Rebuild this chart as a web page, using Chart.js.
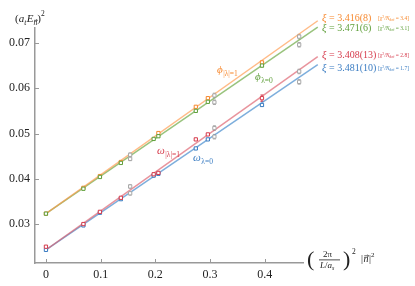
<!DOCTYPE html>
<html>
<head>
<meta charset="utf-8">
<script src="https://cdn.jsdelivr.net/npm/chart.js@4.4.1/dist/chart.umd.min.js"></script>
<style>
  html, body { margin: 0; padding: 0; background: #fff; }
</style>
</head>
<body>
<canvas id="chart" width="415" height="286"></canvas>
<script>
// axis ticks
const xTicks = [0, 0.1, 0.2, 0.3, 0.4];
const xTickLabels = ["0", "0.1", "0.2", "0.3", "0.4"];
const yTicks = [0.03, 0.04, 0.05, 0.06, 0.07];
const yTickLabels = ["0.03", "0.04", "0.05", "0.06", "0.07"];

// pion, |lambda| = 1
const phiL1X = [0, 0.0685, 0.0987, 0.137, 0.2056, 0.274, 0.296, 0.395];
const phiL1Y = [0.0323, 0.0380, 0.0406, 0.0437, 0.0501, 0.0559, 0.0578, 0.0657];
const phiL1Err = [0.0002, 0.0002, 0.0002, 0.0002, 0.0002, 0.0002, 0.0002, 0.0003];
// pion, lambda = 0
const phiL0X = [0, 0.0685, 0.0987, 0.137, 0.197, 0.2056, 0.274, 0.296, 0.395];
const phiL0Y = [0.0323, 0.0378, 0.0404, 0.0435, 0.0488, 0.0494, 0.0550, 0.0570, 0.0650];
const phiL0Err = [0.0002, 0.0002, 0.0002, 0.0002, 0.0002, 0.0002, 0.0002, 0.0002, 0.0003];
// omega, |lambda| = 1
const omL1X = [0, 0.0685, 0.0987, 0.137, 0.197, 0.2056, 0.274, 0.296, 0.395];
const omL1Y = [0.0250, 0.0300, 0.0327, 0.0358, 0.0410, 0.0413, 0.0487, 0.0498, 0.0578];
const omL1Err = [0.0002, 0.0002, 0.0002, 0.0002, 0.0002, 0.0002, 0.0002, 0.0002, 0.0007];
// omega, lambda = 0
const omL0X = [0, 0.0685, 0.0987, 0.137, 0.197, 0.2056, 0.274, 0.296, 0.395];
const omL0Y = [0.0243, 0.0297, 0.0325, 0.0355, 0.0407, 0.0411, 0.0467, 0.0487, 0.0563];
const omL0Err = [0.0002, 0.0002, 0.0002, 0.0002, 0.0002, 0.0002, 0.0002, 0.0002, 0.0003];
// points left out of the fits (grey)
const greyX = [0.154, 0.154, 0.308, 0.308, 0.463, 0.463, 0.154, 0.154, 0.308, 0.308, 0.463, 0.463];
const greyY = [0.0453, 0.0444, 0.0584, 0.0569, 0.0714, 0.0696, 0.0383, 0.0368, 0.0512, 0.0493, 0.0637, 0.0614];
const greyErr = [0.0004, 0.0004, 0.0005, 0.0005, 0.0005, 0.0005, 0.0004, 0.0004, 0.0005, 0.0005, 0.0005, 0.0005];

// fit lines, end points
const fitX = [0, 0.497];
const fitPhiL1 = [0.0323, 0.0749];
const fitPhiL0 = [0.0323, 0.0735];
const fitOmL1 = [0.0243, 0.0670];
const fitOmL0 = [0.0243, 0.0652];

const ORANGE = "#f7892f", GREEN = "#5f9f3a", RED = "#d63b4c", BLUE = "#3a7cc2", GREY = "#a8a8a8";
const SERIF = "'Liberation Serif', 'DejaVu Serif', serif";

function pts(xs, ys) { return xs.map((x, i) => ({ x: x, y: ys[i] })); }

function pointSet(xs, ys, errs, color) {
  return {
    type: "scatter", data: pts(xs, ys), errs: errs,
    borderColor: color, backgroundColor: "#fff",
    pointStyle: "rect", pointRadius: 2.3, borderWidth: 1, order: 1
  };
}
function fitSet(ys, color) {
  return {
    type: "line", data: pts(fitX, ys), borderColor: color, borderWidth: 1.5,
    pointRadius: 0, fill: false, clip: false, order: 10
  };
}

// error bars + inner tick marks + math labels
const extras = {
  id: "extras",
  beforeDatasetsDraw(chart) {
    const ctx = chart.ctx;
    chart.data.datasets.forEach(ds => {
      if (!ds.errs) return;
      const xs = chart.scales.x, ys = chart.scales.y;
      ctx.save();
      ctx.strokeStyle = ds.borderColor;
      ctx.lineWidth = 1;
      ds.data.forEach((p, i) => {
        const px = xs.getPixelForValue(p.x);
        const y1 = ys.getPixelForValue(p.y + ds.errs[i]);
        const y2 = ys.getPixelForValue(p.y - ds.errs[i]);
        ctx.beginPath();
        ctx.moveTo(px, y1); ctx.lineTo(px, y2);
        ctx.moveTo(px - 1.5, y1); ctx.lineTo(px + 1.5, y1);
        ctx.moveTo(px - 1.5, y2); ctx.lineTo(px + 1.5, y2);
        ctx.stroke();
      });
      ctx.restore();
    });
  },
  afterDraw(chart) {
    const ctx = chart.ctx;
    const xs = chart.scales.x, ys = chart.scales.y;
    const a = chart.chartArea;
    ctx.save();
    ctx.strokeStyle = "#999";
    ctx.lineWidth = 1;
    xTicks.forEach(v => {
      const px = Math.round(xs.getPixelForValue(v)) + 0.5;
      ctx.beginPath(); ctx.moveTo(px, a.bottom); ctx.lineTo(px, a.bottom - 4); ctx.stroke();
    });
    yTicks.forEach(v => {
      const py = Math.round(ys.getPixelForValue(v)) + 0.5;
      ctx.beginPath(); ctx.moveTo(a.left, py); ctx.lineTo(a.left + 4, py); ctx.stroke();
    });
    ctx.restore();

    // text pieces: [text, size, dy, italic, extraGap, vectorArrow]
    function write(parts, x, y, color) {
      ctx.save();
      ctx.fillStyle = color;
      ctx.strokeStyle = color;
      ctx.textBaseline = "alphabetic";
      ctx.textAlign = "left";
      parts.forEach(p => {
        ctx.font = (p[3] ? "italic " : "") + p[1] + "px " + SERIF;
        ctx.fillText(p[0], x, y + p[2]);
        const w = ctx.measureText(p[0]).width;
        if (p[5]) {
          const top = y + p[2] - p[1] * 0.62;
          ctx.lineWidth = 0.7;
          ctx.beginPath();
          ctx.moveTo(x + w * 0.15, top); ctx.lineTo(x + w * 1.0, top);
          ctx.moveTo(x + w * 0.8, top - 1.2); ctx.lineTo(x + w * 1.0, top); ctx.lineTo(x + w * 0.8, top + 1.2);
          ctx.stroke();
        }
        x += w + (p[4] || 0);
      });
      ctx.restore();
    }

    // series labels
    write([["ϕ", 11, 0, true, 0.5], ["|λ|=1", 7.5, 3, false]], 217, 73, ORANGE);
    write([["ϕ", 11, 0, true, 0.5], ["λ=0", 7.5, 3, false]], 255, 80, GREEN);
    write([["ω", 11, 0, true, 0.5], ["|λ|=1", 7.5, 3, false]], 157, 154, RED);
    write([["ω", 11, 0, true, 0.5], ["λ=0", 7.5, 3, false]], 193, 161, BLUE);

    // anisotropy results
    const xi = [["3.416(8)", "3.4", ORANGE, 21], ["3.471(6)", "3.1", GREEN, 31],
                ["3.408(13)", "2.8", RED, 58], ["3.481(10)", "1.7", BLUE, 71]];
    xi.forEach(r => {
      write([["ξ", 10.5, 0, true], [" = " + r[0], 10, 0, false]], 322, r[3], r[2]);
      write([["[χ", 5.5, 0, false], ["2", 3.8, -2, false], ["/N", 5.5, 0, true], ["dof", 3.8, 1, false], [" = " + r[1] + "]", 5.5, 0, false]], 378, r[3] - 1, r[2]);
    });

    // y title
    write([["(", 11, 0, false], ["a", 11, 0, true], ["t", 7.5, 3, true, 0.5], ["E", 11, 0, true],
           ["n", 7.5, 3, true, 0, true], [")", 11, 0, false], ["2", 7.5, -6, false]], 15, 22, "#222");

    // x title
    ctx.save();
    ctx.fillStyle = "#222";
    ctx.font = "22px " + SERIF;
    ctx.textBaseline = "alphabetic";
    ctx.fillText("(", 307, 266);
    ctx.fillText(")", 343, 266);
    ctx.font = "9px " + SERIF;
    ctx.fillText("2π", 323, 257);
    ctx.fillRect(319, 259.5, 21, 0.8);
    ctx.restore();
    write([["L", 9, 0, true], ["/", 9, 0, false], ["a", 9, 0, true], ["s", 6, 2, true]], 320, 268, "#222");
    write([["2", 7.5, 0, false]], 352, 254, "#222");
    write([["|", 10, 0, false, 0.5], ["n", 10, 0, true, 0.5, true], ["|", 10, 0, false], ["2", 7, -5, false]], 361, 262, "#222");
  }
};

new Chart(document.getElementById("chart"), {
  data: {
    datasets: [
      fitSet(fitPhiL1, "rgba(255,150,70,0.65)"),
      fitSet(fitPhiL0, "rgba(110,170,70,0.7)"),
      fitSet(fitOmL1, "rgba(220,90,105,0.65)"),
      fitSet(fitOmL0, "rgba(70,140,205,0.7)"),
      pointSet(greyX, greyY, greyErr, GREY),
      pointSet(phiL0X, phiL0Y, phiL0Err, GREEN),
      pointSet(phiL1X, phiL1Y, phiL1Err, ORANGE),
      pointSet(omL1X, omL1Y, omL1Err, RED),
      pointSet(omL0X, omL0Y, omL0Err, BLUE)
    ]
  },
  options: {
    responsive: false,
    animation: false,
    layout: { padding: { top: 28, right: 112, left: 0, bottom: 0 } },
    plugins: { legend: { display: false }, tooltip: { enabled: false } },
    scales: {
      x: {
        type: "linear", min: -0.02, max: 0.47,
        afterFit(s) { s.height = 23; },
        afterBuildTicks(s) { s.ticks = xTicks.map(v => ({ value: v })); },
        grid: { display: false, drawTicks: false },
        border: { color: "#999", width: 1.5 },
        ticks: {
          padding: 5, color: "#222", font: { family: SERIF, size: 12 },
          callback: (v) => xTickLabels[xTicks.indexOf(v)]
        }
      },
      y: {
        type: "linear", min: 0.0214, max: 0.0733,
        afterFit(s) { s.width = 35; },
        afterBuildTicks(s) { s.ticks = yTicks.map(v => ({ value: v })); },
        grid: { display: false, drawTicks: false },
        border: { color: "#999", width: 1.5 },
        ticks: {
          padding: 5, color: "#222", font: { family: SERIF, size: 12 },
          callback: (v) => yTickLabels[yTicks.indexOf(v)]
        }
      }
    }
  },
  plugins: [extras]
});
</script>
</body>
</html>
